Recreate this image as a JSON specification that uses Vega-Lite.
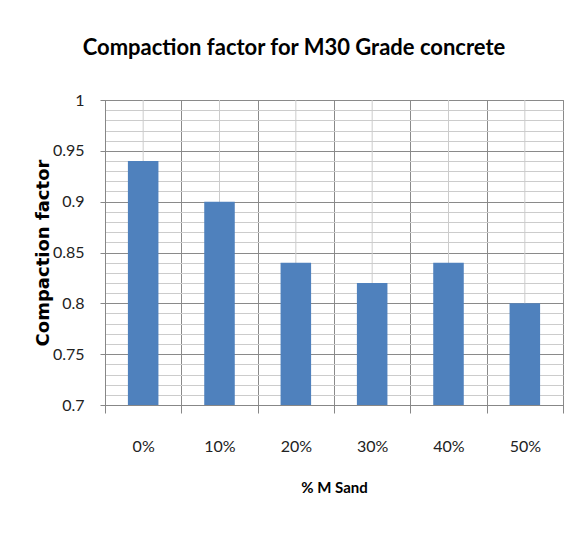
{
  "$schema": "https://vega.github.io/schema/vega-lite/v6.json",
  "autosize": "none",
  "width": 458,
  "height": 305,
  "padding": {"left": 105, "top": 100, "right": 19, "bottom": 130},
  "background": "white",
  "title": {
    "text": "Compaction factor for M30 Grade concrete",
    "font": "Lato",
    "fontSize": 22,
    "fontWeight": "bold",
    "color": "#000000",
    "anchor": "middle",
    "dx": -40,
    "offset": 32
  },
  "data": {
    "values": [
      {"pct": "0%", "cf": 0.94},
      {"pct": "10%", "cf": 0.90},
      {"pct": "20%", "cf": 0.84},
      {"pct": "30%", "cf": 0.82},
      {"pct": "40%", "cf": 0.84},
      {"pct": "50%", "cf": 0.80}
    ]
  },
  "encoding": {
    "x": {
      "field": "pct",
      "type": "nominal",
      "sort": null,
      "scale": {"paddingInner": 0, "paddingOuter": 0},
      "axis": {
        "title": "% M Sand",
        "titleFont": "Lato",
        "titleFontSize": 15,
        "titleFontWeight": "bold",
        "titleColor": "#000000",
        "titlePadding": 26,
        "labelAngle": 0,
        "labelFont": "Lato",
        "labelFontSize": 16,
        "labelColor": "#222222",
        "labelPadding": 25,
        "tickBand": "extent",
        "tickSize": 8,
        "tickColor": "#878787",
        "domainColor": "#878787",
        "grid": true,
        "gridColor": "#8a8a8a",
        "gridWidth": 1
      }
    }
  },
  "layer": [
    {
      "mark": {"type": "rule", "color": "#cccccc", "strokeWidth": 1},
      "encoding": {
        "x": {"field": "pct", "type": "nominal", "sort": null, "bandPosition": 0.5}
      }
    },
    {
      "mark": {"type": "bar", "color": "#4F81BD", "width": {"band": 0.4}, "clip": true},
      "encoding": {
        "y": {
          "field": "cf",
          "type": "quantitative",
          "scale": {"domain": [0.7, 1], "zero": false, "nice": false},
          "axis": {
            "title": "Compaction factor",
            "titleFont": "DejaVu Sans",
            "titleFontSize": 18,
            "titleFontWeight": "bold",
            "titleColor": "#000000",
            "titlePadding": 0,
            "values": [0.7, 0.71, 0.72, 0.73, 0.74, 0.75, 0.76, 0.77, 0.78, 0.79, 0.8, 0.81, 0.82, 0.83, 0.84, 0.85, 0.86, 0.87, 0.88, 0.89, 0.9, 0.91, 0.92, 0.93, 0.94, 0.95, 0.96, 0.97, 0.98, 0.99, 1.0],
            "format": "~g",
            "labelExpr": "abs(datum.value * 20 - round(datum.value * 20)) < 0.0001 ? datum.label : ''",
            "labelFont": "Lato",
            "labelFontSize": 16,
            "labelColor": "#222222",
            "labelPadding": 16,
            "tickSize": 5,
            "tickColor": {"condition": {"test": "abs(datum.value * 20 - round(datum.value * 20)) < 0.0001", "value": "#878787"}, "value": "transparent"},
            "domainColor": "#878787",
            "grid": true,
            "gridColor": {"condition": {"test": "abs(datum.value * 20 - round(datum.value * 20)) < 0.0001", "value": "#8a8a8a"}, "value": "#cccccc"},
            "labelOverlap": false
          }
        }
      }
    }
  ],
  "config": {
    "view": {"stroke": "#878787"}
  }
}
